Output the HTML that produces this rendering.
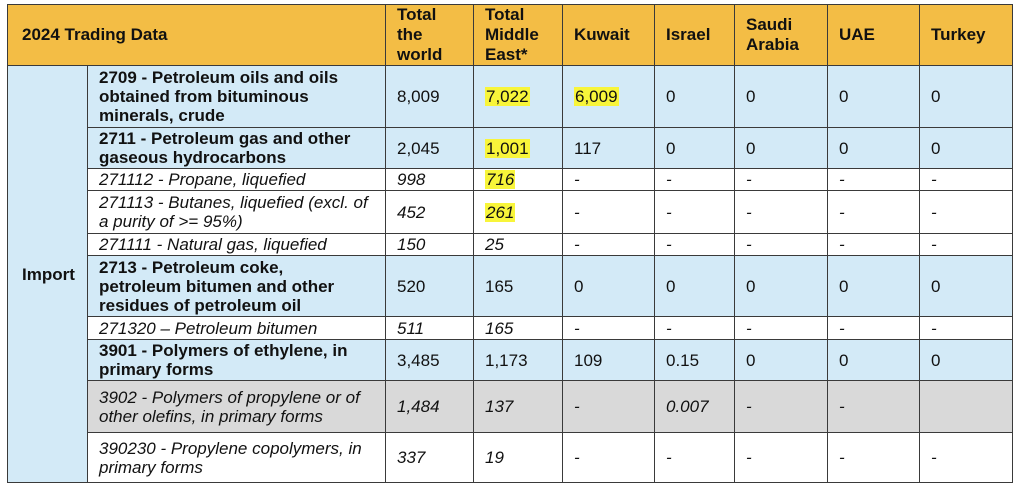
<!DOCTYPE html>
<html><head><style>
html,body{margin:0;padding:0;background:#fff;width:1024px;height:491px;overflow:hidden}
table{position:absolute;left:7px;top:4px;border-collapse:collapse;font-family:"Liberation Sans",sans-serif;font-size:17px;color:#111;table-layout:fixed}
td{border:1.5px solid #3a3a3a;padding:0 2px 0 11px;vertical-align:middle;line-height:19px;overflow:hidden;white-space:nowrap}
.h td{background:#f3bd45;font-weight:bold;font-size:17px;line-height:20px}
.b td{background:#d3eaf7}
.g td{background:#d9d9d9}
.w td{background:#fff}
b{font-weight:bold}
.i{font-style:italic}
.y{background:#f8f53a;padding:0 1px}
.imp{background:#d3eaf7;font-weight:bold;padding-left:14px}
</style></head><body>
<table>
<colgroup><col style="width:80px"><col style="width:298px"><col style="width:88px"><col style="width:89px"><col style="width:92px"><col style="width:80px"><col style="width:93px"><col style="width:92px"><col style="width:93px"></colgroup>
<tr class="h" style="height:61px"><td colspan="2" style="padding-left:14px">2024 Trading Data</td><td>Total<br>the<br>world</td><td>Total<br>Middle<br>East*</td><td>Kuwait</td><td>Israel</td><td>Saudi<br>Arabia</td><td>UAE</td><td>Turkey</td></tr>
<tr class="b" style="height:62px"><td rowspan="11" class="imp">Import</td><td><b>2709 - Petroleum oils and oils<br>obtained from bituminous<br>minerals, crude</b></td><td>8,009</td><td><span class="y">7,022</span></td><td><span class="y">6,009</span></td><td>0</td><td>0</td><td>0</td><td>0</td></tr>
<tr class="b" style="height:41px"><td><b>2711 - Petroleum gas and other<br>gaseous hydrocarbons</b></td><td>2,045</td><td><span class="y">1,001</span></td><td>117</td><td>0</td><td>0</td><td>0</td><td>0</td></tr>
<tr class="w i" style="height:22px"><td>271112 - Propane, liquefied</td><td>998</td><td><span class="y">716</span></td><td>-</td><td>-</td><td>-</td><td>-</td><td>-</td></tr>
<tr class="w i" style="height:43px"><td>271113 - Butanes, liquefied (excl. of<br>a purity of &gt;= 95%)</td><td>452</td><td><span class="y">261</span></td><td>-</td><td>-</td><td>-</td><td>-</td><td>-</td></tr>
<tr class="w i" style="height:22px"><td>271111 - Natural gas, liquefied</td><td>150</td><td>25</td><td>-</td><td>-</td><td>-</td><td>-</td><td>-</td></tr>
<tr class="b" style="height:61px"><td><b>2713 - Petroleum coke,<br>petroleum bitumen and other<br>residues of petroleum oil</b></td><td>520</td><td>165</td><td>0</td><td>0</td><td>0</td><td>0</td><td>0</td></tr>
<tr class="w i" style="height:23px"><td>271320 – Petroleum bitumen</td><td>511</td><td>165</td><td>-</td><td>-</td><td>-</td><td>-</td><td>-</td></tr>
<tr class="b" style="height:41px"><td><b>3901 - Polymers of ethylene, in<br>primary forms</b></td><td>3,485</td><td>1,173</td><td>109</td><td>0.15</td><td>0</td><td>0</td><td>0</td></tr>
<tr class="g i" style="height:52px"><td>3902 - Polymers of propylene or of<br>other olefins, in primary forms</td><td>1,484</td><td>137</td><td>-</td><td>0.007</td><td>-</td><td>-</td><td></td></tr>
<tr class="w i" style="height:50px"><td>390230 - Propylene copolymers, in<br>primary forms</td><td>337</td><td>19</td><td>-</td><td>-</td><td>-</td><td>-</td><td>-</td></tr>
</table>
</body></html>
